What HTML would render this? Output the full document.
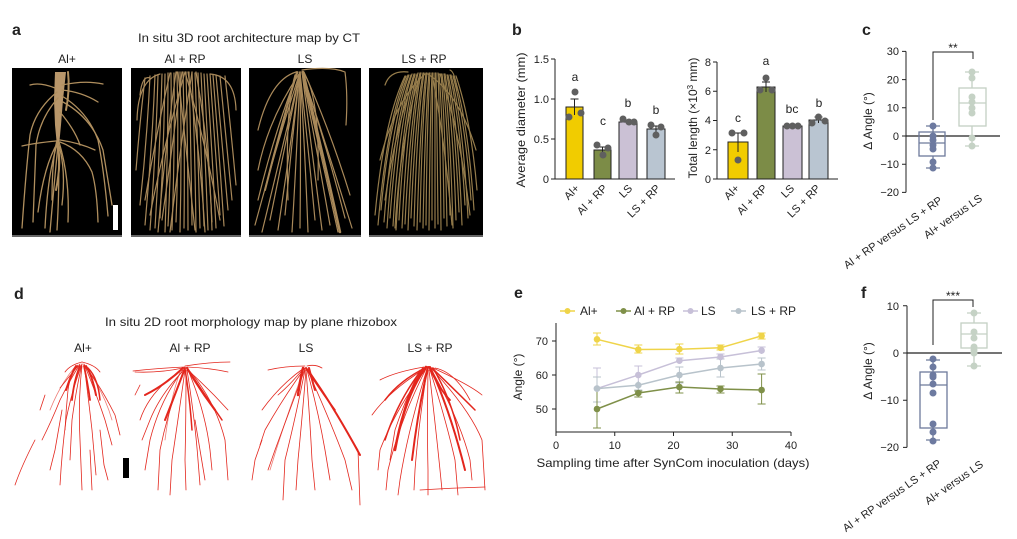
<!DOCTYPE html>
<html><head><meta charset="utf-8"><style>
html,body{margin:0;padding:0;background:#fff;}
svg{display:block;}
text{font-family:"Liberation Sans",Arial,sans-serif;fill:#222;}
</style></head><body>
<svg width="1017" height="539" viewBox="0 0 1017 539" xmlns="http://www.w3.org/2000/svg">
<rect width="1017" height="539" fill="#fff"/>

<!-- panel letters -->
<text x="12" y="35" font-size="16" font-weight="bold">a</text>
<text x="512" y="35" font-size="16" font-weight="bold">b</text>
<text x="862" y="35" font-size="16" font-weight="bold">c</text>
<text x="14" y="299" font-size="16" font-weight="bold">d</text>
<text x="514" y="298" font-size="16" font-weight="bold">e</text>
<text x="861" y="298" font-size="16" font-weight="bold">f</text>

<!-- ===== Panel a ===== -->
<text x="249" y="42" font-size="12" text-anchor="middle" textLength="222" lengthAdjust="spacingAndGlyphs">In situ 3D root architecture map by CT</text>
<text x="67" y="63" font-size="12" text-anchor="middle">Al+</text>
<text x="185" y="63" font-size="12" text-anchor="middle">Al + RP</text>
<text x="305" y="63" font-size="12" text-anchor="middle">LS</text>
<text x="424" y="63" font-size="12" text-anchor="middle">LS + RP</text>

<rect x="12" y="68" width="110" height="168" fill="#000"/>
<rect x="131" y="68" width="110" height="168" fill="#000"/>
<rect x="249" y="68" width="112" height="168" fill="#000"/>
<rect x="369" y="68" width="114" height="168" fill="#000"/>
<rect x="12" y="235" width="110" height="2" fill="#666"/>
<rect x="131" y="235" width="110" height="2" fill="#666"/>
<rect x="249" y="235" width="112" height="2" fill="#666"/>
<rect x="369" y="235" width="114" height="2" fill="#666"/>

<!-- box1 roots -->
<path d="M55,72 L66,72 L63,100 L61,125 L59,146 L57,146 L55,125 L54,100 Z" fill="#b8966a"/>
<g stroke="#b08f5e" fill="none" stroke-width="1.3" stroke-linecap="round">
<path d="M68,72 Q70,90 66,110" stroke-width="2"/>
<path d="M57,92 Q35,110 30,135 Q26,170 22,228"/>
<path d="M58,98 Q40,118 36,145 L33,222"/>
<path d="M55,88 Q40,82 30,85"/>
<path d="M62,85 Q85,80 103,84"/>
<path d="M62,90 Q82,92 98,102"/>
<path d="M62,96 Q88,112 98,140 Q104,170 108,216"/>
<path d="M63,102 Q92,118 103,150 Q108,180 112,205"/>
<path d="M60,112 Q75,130 80,145"/>
<path d="M58,142 Q48,170 45,228"/>
<path d="M58,142 Q44,165 38,212"/>
<path d="M58,142 Q60,180 57,230"/>
<path d="M59,142 Q70,178 68,222"/>
<path d="M58,145 Q54,185 50,232"/>
<path d="M60,142 Q82,150 92,172 Q97,190 98,222"/>
<path d="M60,140 Q80,143 95,150"/>
<path d="M56,141 Q35,143 22,146"/>
<path d="M59,146 Q66,170 62,205"/>
<path d="M57,140 Q52,160 52,200"/>
<path d="M57,143 Q62,160 56,190" stroke-width="2"/>
</g>
<rect x="113" y="205" width="5" height="25" fill="#fff"/>

<!-- box2 roots -->
<g stroke="#a9895a" fill="none" stroke-width="1.2" stroke-linecap="round">
<path d="M150,76 Q147,140 140,205"/>
<path d="M155,75 Q152,150 145,225"/>
<path d="M158,75 Q156,150 150,230"/>
<path d="M162,74 Q160,150 155,228"/>
<path d="M165,74 Q164,145 160,218"/>
<path d="M168,73 Q168,150 165,232"/>
<path d="M171,73 Q172,150 168,226"/>
<path d="M174,73 Q175,150 172,230"/>
<path d="M177,72 Q179,145 176,222"/>
<path d="M180,72 Q182,150 180,232"/>
<path d="M183,72 Q185,150 184,228"/>
<path d="M186,72 Q188,150 188,230"/>
<path d="M189,72 Q191,148 192,225"/>
<path d="M192,72 Q195,150 196,232"/>
<path d="M195,73 Q198,150 200,228"/>
<path d="M198,73 Q201,150 204,226"/>
<path d="M201,73 Q205,150 208,230"/>
<path d="M204,74 Q208,148 212,222"/>
<path d="M207,74 Q212,150 216,228"/>
<path d="M210,74 Q215,145 220,215"/>
<path d="M213,75 Q219,150 224,226"/>
<path d="M216,75 Q222,140 228,210"/>
<path d="M220,76 Q226,138 232,200"/>
<path d="M145,78 Q140,120 136,170"/>
<path d="M225,76 Q231,130 236,185"/>
<path d="M185,72 Q165,140 150,215"/>
<path d="M185,72 Q205,140 220,220"/>
<path d="M178,72 Q186,150 195,230"/>
<path d="M192,72 Q180,150 170,232"/>
<path d="M170,73 Q156,135 145,200"/>
<path d="M160,74 Q138,80 137,120"/>
<path d="M210,74 Q235,76 236,110"/>
<path d="M150,78 Q142,75 140,95"/>
<path d="M176,72 Q165,150 158,232"/>
<path d="M196,72 Q210,150 212,230"/>
<path d="M182,72 Q172,150 162,220"/>
<path d="M188,72 Q200,150 205,232"/>
</g>

<!-- box3 roots -->
<g stroke="#a9895a" fill="none" stroke-width="1.2" stroke-linecap="round">
<path d="M300,72 Q278,140 255,225"/>
<path d="M300,72 Q282,150 262,232"/>
<path d="M300,72 Q285,145 270,220"/>
<path d="M300,72 Q290,150 278,230"/>
<path d="M300,72 Q292,140 285,215"/>
<path d="M300,72 Q297,150 292,232"/>
<path d="M300,72 Q301,150 300,228"/>
<path d="M300,72 Q305,150 308,232"/>
<path d="M300,72 Q308,145 315,220"/>
<path d="M302,72 Q312,150 322,230"/>
<path d="M302,72 Q316,145 330,225"/>
<path d="M302,72 Q320,150 338,232"/>
<path d="M302,72 Q325,140 345,218"/>
<path d="M302,72 Q328,150 352,228"/>
<path d="M298,72 Q275,130 258,200"/>
<path d="M304,72 Q330,130 350,195"/>
<path d="M303,72 Q322,150 340,232" stroke-width="2.5"/>
<path d="M297,72 Q280,130 265,190" stroke-width="2"/>
<path d="M302,70 Q330,66 345,72 Q348,95 346,125"/>
<path d="M296,72 Q270,80 258,130"/>
<path d="M305,75 Q320,100 318,180"/>
<path d="M295,75 Q285,110 288,200"/>
<path d="M299,74 Q268,120 258,170"/>
</g>

<!-- box4 roots -->
<g stroke="#957c4b" fill="none" stroke-width="1.2" stroke-linecap="round">
<path d="M405,76 Q384,120 375,215"/>
<path d="M406,76 Q387,120 378,225"/>
<path d="M408,75 Q389,120 381,210"/>
<path d="M409,75 Q392,120 384,222"/>
<path d="M411,75 Q394,120 387,228"/>
<path d="M412,74 Q397,120 390,218"/>
<path d="M414,74 Q399,120 393,226"/>
<path d="M415,74 Q402,120 396,230"/>
<path d="M417,74 Q404,120 399,220"/>
<path d="M418,73 Q407,120 402,228"/>
<path d="M420,73 Q410,120 405,224"/>
<path d="M421,73 Q412,120 408,230"/>
<path d="M423,73 Q415,120 411,218"/>
<path d="M424,73 Q417,120 414,226"/>
<path d="M426,73 Q420,120 417,230"/>
<path d="M427,73 Q422,120 420,222"/>
<path d="M429,73 Q425,120 423,228"/>
<path d="M430,73 Q427,120 426,225"/>
<path d="M432,73 Q430,120 429,230"/>
<path d="M433,73 Q432,120 432,220"/>
<path d="M435,73 Q435,120 435,228"/>
<path d="M436,73 Q437,120 438,224"/>
<path d="M438,73 Q440,120 441,230"/>
<path d="M439,74 Q443,120 444,218"/>
<path d="M441,74 Q445,120 447,226"/>
<path d="M442,74 Q448,120 450,215"/>
<path d="M444,74 Q450,120 453,228"/>
<path d="M445,74 Q453,120 456,220"/>
<path d="M447,75 Q455,120 459,212"/>
<path d="M448,75 Q458,120 462,225"/>
<path d="M450,75 Q460,120 465,205"/>
<path d="M451,75 Q463,120 468,218"/>
<path d="M453,76 Q465,120 471,200"/>
<path d="M454,76 Q468,120 474,210"/>
<path d="M456,76 Q471,120 477,190"/>
<path d="M425,74 Q395,100 380,160"/>
<path d="M428,74 Q460,95 476,150"/>
<path d="M385,85 Q390,70 408,72"/>
<path d="M450,70 Q455,72 457,90"/>
<path d="M420,74 Q400,140 395,228"/>
<path d="M432,74 Q445,140 452,225"/>
<path d="M415,75 Q395,130 385,200"/>
<path d="M440,74 Q460,130 470,215"/>
</g>

<!-- ===== Panel b ===== -->
<g stroke="#222" stroke-width="1" fill="none">
<path d="M555,59 L555,179 L675,179"/>
<path d="M551,59 L555,59 M551,99 L555,99 M551,139 L555,139 M551,179 L555,179"/>
<path d="M717,62 L717,179 L838,179"/>
<path d="M713,62 L717,62 M713,91.3 L717,91.3 M713,120.5 L717,120.5 M713,149.8 L717,149.8 M713,179 L717,179"/>
</g>
<g font-size="11" text-anchor="end">
<text x="549" y="63">1.5</text><text x="549" y="103">1.0</text><text x="549" y="143">0.5</text><text x="549" y="183">0</text>
<text x="711" y="66">8</text><text x="711" y="95">6</text><text x="711" y="124">4</text><text x="711" y="154">2</text><text x="711" y="183">0</text>
</g>
<text transform="translate(525,120) rotate(-90)" font-size="12" text-anchor="middle" textLength="135" lengthAdjust="spacingAndGlyphs">Average diameter (mm)</text>
<text transform="translate(697,118) rotate(-90)" font-size="12" text-anchor="middle">Total length (×10<tspan font-size="8" dy="-4">3</tspan><tspan dy="4"> mm)</tspan></text>

<g stroke="#222" stroke-width="1">
<rect x="566" y="107" width="17" height="72" fill="#f1cc00"/>
<rect x="594" y="150" width="17" height="29" fill="#7c8c47"/>
<rect x="619" y="122" width="18" height="57" fill="#cbc1d5"/>
<rect x="647" y="129" width="18" height="50" fill="#b9c5d1"/>
<rect x="728" y="142" width="20" height="37" fill="#f1cc00"/>
<rect x="757" y="87" width="18" height="92" fill="#7c8c47"/>
<rect x="783" y="126" width="19" height="53" fill="#cbc1d5"/>
<rect x="809" y="120" width="19" height="59" fill="#b9c5d1"/>
</g>
<g stroke="#222" stroke-width="1" fill="none">
<path d="M574.5,99 L574.5,115 M570.5,99 L578.5,99"/>
<path d="M602.5,147 L602.5,153 M598.5,147 L606.5,147"/>
<path d="M628,120 L628,124 M624,120 L632,120"/>
<path d="M656,126 L656,133 M652,126 L660,126"/>
<path d="M738,133 L738,152 M734,133 L742,133"/>
<path d="M766,82 L766,92 M762,82 L770,82"/>
<path d="M792.5,125 L792.5,127 M788.5,125 L796.5,125"/>
<path d="M818.5,117 L818.5,123 M814.5,117 L822.5,117"/>
</g>
<g fill="#5f5f5f">
<circle cx="569" cy="117" r="3.5"/><circle cx="575" cy="92" r="3.5"/><circle cx="581" cy="113" r="3.5"/>
<circle cx="597" cy="145" r="3.5"/><circle cx="608" cy="148" r="3.5"/><circle cx="603" cy="155" r="3.5"/>
<circle cx="623" cy="119" r="3.5"/><circle cx="629" cy="122" r="3.5"/><circle cx="634" cy="122" r="3.5"/>
<circle cx="651" cy="125" r="3.5"/><circle cx="661" cy="127" r="3.5"/><circle cx="656" cy="135" r="3.5"/>
<circle cx="732" cy="133" r="3.5"/><circle cx="744" cy="133" r="3.5"/><circle cx="738" cy="160" r="3.5"/>
<circle cx="760" cy="90" r="3.5"/><circle cx="766" cy="78" r="3.5"/><circle cx="772" cy="90" r="3.5"/>
<circle cx="787" cy="126" r="3.5"/><circle cx="792.5" cy="126" r="3.5"/><circle cx="798" cy="126" r="3.5"/>
<circle cx="812" cy="123" r="3.5"/><circle cx="818.5" cy="117" r="3.5"/><circle cx="825" cy="121" r="3.5"/>
</g>
<g font-size="12" text-anchor="middle">
<text x="575" y="81">a</text><text x="603" y="125">c</text><text x="628" y="107">b</text><text x="656" y="114">b</text>
<text x="738" y="122">c</text><text x="766" y="65">a</text><text x="792" y="113">bc</text><text x="819" y="107">b</text>
</g>
<g font-size="11" text-anchor="end">
<text transform="translate(580,189) rotate(-45)">Al+</text>
<text transform="translate(608,189) rotate(-45)">Al + RP</text>
<text transform="translate(633,189) rotate(-45)">LS</text>
<text transform="translate(661,189) rotate(-45)">LS + RP</text>
<text transform="translate(740,189) rotate(-45)">Al+</text>
<text transform="translate(768,189) rotate(-45)">Al + RP</text>
<text transform="translate(795,189) rotate(-45)">LS</text>
<text transform="translate(821,189) rotate(-45)">LS + RP</text>
</g>

<!-- ===== Panel c ===== -->
<g stroke="#222" stroke-width="1" fill="none">
<path d="M906,51.4 L906,192.4"/>
<path d="M902,51.4 L906,51.4 M902,79.6 L906,79.6 M902,107.8 L906,107.8 M902,136 L906,136 M902,164.2 L906,164.2 M902,192.4 L906,192.4"/>
<path d="M906,136 L1000,136" stroke-width="1.3"/>
<path d="M933,120 L933,52 L973,52 L973,59"/>
</g>
<g font-size="11" text-anchor="end">
<text x="899" y="55">30</text><text x="899" y="83.5">20</text><text x="899" y="111.5">10</text><text x="899" y="140">0</text><text x="899" y="168">−10</text><text x="899" y="196">−20</text>
</g>
<text x="953" y="52" font-size="12" text-anchor="middle">**</text>
<text transform="translate(872,121) rotate(-90)" font-size="12" text-anchor="middle">Δ Angle (°)</text>
<g fill="none" stroke="#6d7a9b" stroke-width="1.3">
<rect x="919" y="132" width="26" height="24"/>
<path d="M919,143 L945,143 M933,132 L933,126 M926,126 L940,126 M933,156 L933,168 M926,168 L940,168"/>
</g>
<g fill="#6d7aa0">
<circle cx="933" cy="126" r="3.5"/><circle cx="933" cy="136" r="3.5"/><circle cx="933" cy="140" r="3.5"/><circle cx="933" cy="145" r="3.5"/><circle cx="933" cy="149" r="3.5"/><circle cx="933" cy="162" r="3.5"/><circle cx="933" cy="168" r="3.5"/>
</g>
<g fill="none" stroke="#c4d0c4" stroke-width="1.3">
<rect x="959" y="88" width="27" height="38"/>
<path d="M959,103 L986,103 M972,88 L972,72 M965,72 L979,72 M972,126 L972,146 M965,146 L979,146"/>
</g>
<g fill="#c5d2c5">
<circle cx="972" cy="72" r="3.5"/><circle cx="972" cy="78" r="3.5"/><circle cx="972" cy="97" r="3.5"/><circle cx="972" cy="102" r="3.5"/><circle cx="972" cy="108" r="3.5"/><circle cx="972" cy="113" r="3.5"/><circle cx="972" cy="138" r="3.5"/><circle cx="972" cy="146" r="3.5"/>
</g>
<g font-size="11" text-anchor="end">
<text transform="translate(943,202) rotate(-35)">Al + RP versus LS + RP</text>
<text transform="translate(983,200) rotate(-35)">Al+ versus LS</text>
</g>

<!-- ===== Panel d ===== -->
<text x="251" y="326" font-size="12" text-anchor="middle" textLength="292" lengthAdjust="spacingAndGlyphs">In situ 2D root morphology map by plane rhizobox</text>
<text x="83" y="352" font-size="12" text-anchor="middle">Al+</text>
<text x="190" y="352" font-size="12" text-anchor="middle">Al + RP</text>
<text x="306" y="352" font-size="12" text-anchor="middle">LS</text>
<text x="430" y="352" font-size="12" text-anchor="middle">LS + RP</text>
<rect x="123" y="458" width="6" height="20" fill="#000"/>

<g stroke="#e3261d" fill="none" stroke-width="0.8" stroke-linecap="round">
<!-- Al+ -->
<path d="M80,364 Q70,380 60,400 Q52,420 42,440"/>
<path d="M82,364 Q72,390 66,420 Q62,450 60,485"/>
<path d="M82,364 Q76,390 72,420 L70,460"/>
<path d="M84,364 Q88,395 92,430 L96,475"/>
<path d="M84,364 Q95,390 105,420 L112,445"/>
<path d="M84,365 Q100,385 115,415 L120,435"/>
<path d="M78,366 Q68,378 60,388"/>
<path d="M82,366 Q78,400 80,440 L82,490"/>
<path d="M76,366 Q72,372 66,390" stroke-width="2"/>
<path d="M86,366 Q92,375 96,395" stroke-width="2"/>
<path d="M80,366 Q74,380 72,400" stroke-width="1.8"/>
<path d="M84,366 Q88,385 90,400" stroke-width="1.8"/>
<path d="M88,368 Q98,378 100,400" stroke-width="1.5"/>
<path d="M78,365 Q70,375 68,390 Q66,410 65,430"/>
<path d="M62,410 L55,450 L50,470"/>
<path d="M100,430 L104,465 L108,480"/>
<path d="M15,485 Q22,465 35,440"/>
<path d="M45,395 L40,410"/>
<path d="M90,450 L92,490"/>
<path d="M82,362 Q70,365 65,372"/>
<path d="M82,362 Q95,365 100,372"/>
<path d="M74,368 Q60,385 50,410" stroke-opacity="0.6"/>
<path d="M88,370 Q105,395 112,420" stroke-opacity="0.6"/>
<!-- Al+RP -->
<path d="M185,367 Q160,368 133,371"/>
<path d="M183,368 Q160,373 135,372"/>
<path d="M185,366 Q210,362 230,362"/>
<path d="M187,367 Q210,368 228,372"/>
<path d="M183,368 Q165,385 145,395" stroke-width="2"/>
<path d="M185,368 Q175,395 165,420" stroke-width="2"/>
<path d="M187,368 Q200,390 215,410" stroke-width="2.2"/>
<path d="M187,368 Q205,395 222,420" stroke-width="1.5"/>
<path d="M185,369 Q190,400 192,430" stroke-width="1.5"/>
<path d="M183,370 Q160,400 150,440 L145,470"/>
<path d="M184,370 Q168,410 160,450 L158,490"/>
<path d="M185,370 Q178,420 172,460 L170,495"/>
<path d="M186,370 Q186,420 185,460 L186,490"/>
<path d="M187,370 Q195,420 198,460 L200,485"/>
<path d="M188,370 Q205,410 210,450 L212,470"/>
<path d="M188,369 Q215,400 225,440 L228,480"/>
<path d="M182,370 Q150,390 140,420"/>
<path d="M182,372 Q160,395 150,420 L142,440"/>
<path d="M190,372 Q210,390 228,410"/>
<path d="M195,420 Q200,450 205,480"/>
<path d="M140,385 L135,395"/>
<path d="M180,372 Q170,400 165,440" stroke-opacity="0.6"/>
<!-- LS -->
<path d="M306,368 Q330,400 360,455" stroke-width="2"/>
<path d="M306,368 Q320,390 335,410" stroke-width="1.5"/>
<path d="M305,368 Q285,395 265,430 L260,445"/>
<path d="M305,369 Q290,410 275,450 L268,470"/>
<path d="M305,370 Q295,420 285,460 L283,500"/>
<path d="M306,370 Q302,420 298,460 L296,490"/>
<path d="M306,370 Q310,420 312,460 L315,490"/>
<path d="M307,370 Q318,410 325,450 L330,480"/>
<path d="M307,369 Q330,420 345,460 L352,490"/>
<path d="M308,369 Q335,410 358,450 L360,505"/>
<path d="M304,368 Q280,385 262,410"/>
<path d="M304,368 Q290,385 278,395"/>
<path d="M305,366 Q285,366 268,370"/>
<path d="M307,366 Q315,364 322,368"/>
<path d="M303,368 Q300,380 298,395" stroke-width="2.5"/>
<path d="M309,368 Q312,380 315,390" stroke-width="2"/>
<path d="M262,440 L255,460 L252,480"/>
<path d="M303,372 Q285,420 270,470" stroke-opacity="0.6"/>
<!-- LS+RP -->
<path d="M426,367 Q405,395 395,450" stroke-width="2.5"/>
<path d="M428,367 Q418,410 412,460" stroke-width="2"/>
<path d="M430,367 Q450,410 465,470" stroke-width="2"/>
<path d="M429,367 Q440,390 450,400" stroke-width="1.8"/>
<path d="M427,367 Q400,380 385,400" stroke-width="1.5"/>
<path d="M425,368 Q410,385 402,420" stroke-width="2"/>
<path d="M432,368 Q455,390 475,410" stroke-width="1.5"/>
<path d="M426,368 Q390,390 372,415"/>
<path d="M426,369 Q395,410 380,450 L378,470"/>
<path d="M426,369 Q400,420 388,470 L386,490"/>
<path d="M427,369 Q408,430 400,480 L398,495"/>
<path d="M427,370 Q418,430 415,470 L414,490"/>
<path d="M428,370 Q427,430 428,470 L428,495"/>
<path d="M429,370 Q436,430 440,470 L442,490"/>
<path d="M430,370 Q446,420 455,460 L458,495"/>
<path d="M431,369 Q460,420 470,460 L472,480"/>
<path d="M432,369 Q470,410 482,440 L485,490"/>
<path d="M433,368 Q470,385 482,395"/>
<path d="M424,367 Q395,372 380,380"/>
<path d="M420,490 Q450,488 485,487"/>
<path d="M435,368 Q455,372 470,400"/>
<path d="M420,370 Q405,400 395,430 L390,460"/>
<path d="M423,368 Q398,400 385,440" stroke-width="1.5"/>
<path d="M433,368 Q452,400 460,440" stroke-width="1.5"/>
</g>

<!-- ===== Panel e ===== -->
<g stroke="#222" stroke-width="1" fill="none">
<path d="M556,323 L556,432 L791,432"/>
<path d="M552,341 L556,341 M552,375 L556,375 M552,409 L556,409"/>
<path d="M556,432 L556,436 M614.75,432 L614.75,436 M673.5,432 L673.5,436 M732.25,432 L732.25,436 M791,432 L791,436"/>
</g>
<g font-size="11" text-anchor="end">
<text x="548" y="345">70</text><text x="548" y="379">60</text><text x="548" y="413">50</text>
</g>
<g font-size="11" text-anchor="middle">
<text x="556" y="449">0</text><text x="614.75" y="449">10</text><text x="673.5" y="449">20</text><text x="732.25" y="449">30</text><text x="791" y="449">40</text>
</g>
<text x="673" y="467" font-size="12" text-anchor="middle" textLength="273" lengthAdjust="spacingAndGlyphs">Sampling time after SynCom inoculation (days)</text>
<text transform="translate(522,377) rotate(-90)" font-size="12" text-anchor="middle">Angle (°)</text>

<!-- legend -->
<g stroke-width="1.5">
<path d="M560,311 L575,311" stroke="#efd449"/><circle cx="567.5" cy="311" r="3" fill="#efd449"/>
<path d="M616,311 L631,311" stroke="#7f9049"/><circle cx="623.5" cy="311" r="3" fill="#7f9049"/>
<path d="M683,311 L698,311" stroke="#c7c0d8"/><circle cx="690.5" cy="311" r="3" fill="#c7c0d8"/>
<path d="M731,311 L746,311" stroke="#b8c3cb"/><circle cx="738.5" cy="311" r="3" fill="#b8c3cb"/>
</g>
<g font-size="12">
<text x="580" y="315">Al+</text><text x="634" y="315">Al + RP</text><text x="701" y="315">LS</text><text x="751" y="315">LS + RP</text>
</g>

<!-- error bars -->
<g fill="none" stroke-width="1">
<path stroke="#efd449" d="M597,333 L597,345 M593,333 L601,333 M593,345 L601,345 M638.3,345 L638.3,353 M634.3,345 L642.3,345 M634.3,353 L642.3,353 M679.4,344 L679.4,354 M675.4,344 L683.4,344 M675.4,354 L683.4,354 M720.5,345 L720.5,350 M716.5,345 L724.5,345 M716.5,350 L724.5,350 M761.6,333 L761.6,339 M757.6,333 L765.6,333 M757.6,339 L765.6,339"/>
<path stroke="#c7c0d8" d="M597,368 L597,409 M593,368 L601,368 M638.3,366 L638.3,385 M634.3,366 L642.3,366 M679.4,358 L679.4,363 M675.4,358 L683.4,358 M720.5,354 L720.5,360 M716.5,354 L724.5,354 M761.6,347 L761.6,354 M757.6,347 L765.6,347"/>
<path stroke="#b8c3cb" d="M597,377 L597,402 M593,377 L601,377 M593,402 L601,402 M638.3,381 L638.3,390 M634.3,390 L642.3,390 M679.4,367 L679.4,383 M675.4,367 L683.4,367 M675.4,383 L683.4,383 M720.5,359 L720.5,377 M716.5,359 L724.5,359 M716.5,377 L724.5,377 M761.6,358 L761.6,370 M757.6,358 L765.6,358 M757.6,370 L765.6,370"/>
<path stroke="#7f9049" d="M597,390 L597,428 M593,428 L601,428 M638.3,391 L638.3,397 M634.3,397 L642.3,397 M634.3,391 L642.3,391 M679.4,382 L679.4,393 M675.4,393 L683.4,393 M675.4,382 L683.4,382 M720.5,386 L720.5,393 M716.5,393 L724.5,393 M716.5,386 L724.5,386 M761.6,374 L761.6,404 M757.6,404 L765.6,404 M757.6,374 L765.6,374"/>
</g>
<!-- lines -->
<g fill="none" stroke-width="1.5">
<polyline stroke="#efd449" points="597,339.3 638.3,349.5 679.4,349.2 720.5,347.8 761.6,335.9"/>
<polyline stroke="#c7c0d8" points="597,388.6 638.3,375 679.4,360.7 720.5,357 761.6,350.5"/>
<polyline stroke="#b8c3cb" points="597,388.6 638.3,385.2 679.4,375 720.5,368 761.6,364"/>
<polyline stroke="#7f9049" points="597,409 638.3,393 679.4,387 720.5,389 761.6,390"/>
</g>
<g fill="#efd449"><circle cx="597" cy="339.3" r="3.3"/><circle cx="638.3" cy="349.5" r="3.3"/><circle cx="679.4" cy="349.2" r="3.3"/><circle cx="720.5" cy="347.8" r="3.3"/><circle cx="761.6" cy="335.9" r="3.3"/></g>
<g fill="#c7c0d8"><circle cx="597" cy="388.6" r="3.3"/><circle cx="638.3" cy="375" r="3.3"/><circle cx="679.4" cy="360.7" r="3.3"/><circle cx="720.5" cy="357" r="3.3"/><circle cx="761.6" cy="350.5" r="3.3"/></g>
<g fill="#b8c3cb"><circle cx="597" cy="388.6" r="3.3"/><circle cx="638.3" cy="385.2" r="3.3"/><circle cx="679.4" cy="375" r="3.3"/><circle cx="720.5" cy="368" r="3.3"/><circle cx="761.6" cy="364" r="3.3"/></g>
<g fill="#7f9049"><circle cx="597" cy="409" r="3.3"/><circle cx="638.3" cy="393" r="3.3"/><circle cx="679.4" cy="387" r="3.3"/><circle cx="720.5" cy="389" r="3.3"/><circle cx="761.6" cy="390" r="3.3"/></g>

<!-- ===== Panel f ===== -->
<g stroke="#222" stroke-width="1" fill="none">
<path d="M907,305.8 L907,447.4"/>
<path d="M903,305.8 L907,305.8 M903,353 L907,353 M903,400.2 L907,400.2 M903,447.4 L907,447.4"/>
<path d="M907,353 L1002,353" stroke-width="1.3"/>
<path d="M933,345 L933,300 L973,300 L973,307"/>
</g>
<g font-size="11" text-anchor="end">
<text x="899" y="310">10</text><text x="899" y="357">0</text><text x="899" y="404">−10</text><text x="899" y="451">−20</text>
</g>
<text x="953" y="300" font-size="12" text-anchor="middle">***</text>
<text transform="translate(872,371) rotate(-90)" font-size="12" text-anchor="middle">Δ Angle (°)</text>
<g fill="none" stroke="#6d7a9b" stroke-width="1.3">
<rect x="920" y="372" width="27" height="56"/>
<path d="M920,385 L947,385 M933,372 L933,360 M926,360 L940,360 M933,428 L933,440 M926,440 L940,440"/>
</g>
<g fill="#6d7aa0">
<circle cx="933" cy="359" r="3.5"/><circle cx="933" cy="367" r="3.5"/><circle cx="933" cy="375" r="3.5"/><circle cx="933" cy="377" r="3.5"/><circle cx="933" cy="384" r="3.5"/><circle cx="933" cy="393" r="3.5"/><circle cx="933" cy="424" r="3.5"/><circle cx="933" cy="432" r="3.5"/><circle cx="933" cy="441" r="3.5"/>
</g>
<g fill="none" stroke="#c4d0c4" stroke-width="1.3">
<rect x="961" y="323" width="26" height="25"/>
<path d="M961,334 L987,334 M974,323 L974,313 M967,313 L981,313 M974,348 L974,366 M967,366 L981,366"/>
</g>
<g fill="#c5d2c5">
<circle cx="974" cy="313" r="3.5"/><circle cx="974" cy="332" r="3.5"/><circle cx="974" cy="338" r="3.5"/><circle cx="974" cy="347" r="3.5"/><circle cx="974" cy="350" r="3.5"/><circle cx="974" cy="353" r="3.5"/><circle cx="974" cy="366" r="3.5"/>
</g>
<g font-size="11" text-anchor="end">
<text transform="translate(942,465) rotate(-35)">Al + RP versus LS + RP</text>
<text transform="translate(984,466) rotate(-35)">Al+ versus LS</text>
</g>
</svg>
</body></html>
